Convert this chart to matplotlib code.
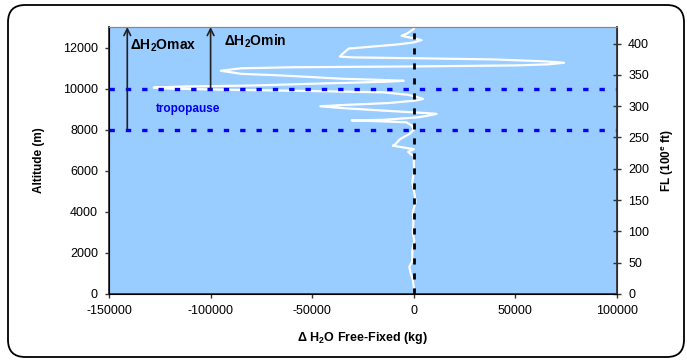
import numpy as np
import matplotlib.pyplot as plt
from matplotlib.patches import FancyBboxPatch

plt.rcParams['font.family'] = ['Liberation Sans', 'DejaVu Sans']
plt.rcParams['mathtext.fontset'] = 'custom'
plt.rcParams['mathtext.rm'] = 'Liberation Sans'
plt.rcParams['mathtext.bf'] = 'Liberation Sans:bold'
plt.rcParams['axes.unicode_minus'] = False

# altitude (m) and H2O difference free - fixed (kg)
altitude = [300, 700, 1000, 1320, 1600, 2150, 2600, 3000, 3500, 3960,
            4500, 5000, 5450, 6000, 6450, 6700, 6920, 7050, 7150, 7220,
            7300, 7540, 7800, 8000, 8200, 8360, 8420, 8450, 8480, 8600,
            8720, 8770, 8810, 8900, 9050, 9140, 9200, 9300, 9420, 9500,
            9580, 9700, 9820, 9880, 9950, 10000, 10050, 10100, 10150, 10250,
            10330, 10380, 10420, 10480, 10640, 10720, 10870, 10990, 11040, 11080,
            11130, 11180, 11260, 11330, 11420, 11480, 11520, 11560, 11700, 11950,
            12150, 12250, 12360, 12450, 12570, 12700, 12900, 13050]
delta_h2o = [0, -500, -1500, -2200, -800, -700, 200, -500, -200, -500,
             900, 100, -700, 100, 0, 0, -2800, 0, -6000, -10300,
             -9000, -6800, -2000, 0, -1000, -3600, -20000, -30600, -15000, 2000,
             9000, 11200, 6000, -10000, -35000, -46000, -35000, -12000, 1000, 4600,
             2000, -3000, -15000, -50000, -95000, -120000, -128000, -115000, -80000, -45000,
             -15000, -5000, -15000, -35000, -65000, -85000, -95000, -85000, -60000, 0,
             50000, 66000, 74000, 64000, 40000, 0, -30000, -36400, -35000, -32000,
             -8000, 0, 3800, 0, -6000, -3000, 0, 0]

tropopause = [8000, 10000]
arrow_x = [-141000, -100000]
arrow_base = [8000, 10000]
arrow_names = [r'$\mathbf{\Delta H_2Omax}$', r'$\mathbf{\Delta H_2Omin}$']

fig = plt.figure(figsize=(6.87, 3.62), dpi=100)
frame = FancyBboxPatch((8 / 687, 5 / 362), 676 / 687, 352 / 362,
                       boxstyle='round,pad=0,rounding_size=0.025',
                       transform=fig.transFigure, facecolor='white',
                       edgecolor='black', lw=1.3, mutation_aspect=687 / 362,
                       zorder=-10)
fig.patches.append(frame)

ax = fig.add_axes([109 / 687, 1 - 294 / 362, 508 / 687, 267 / 362])
ax.set_facecolor('#99CCFF')

ax.plot(delta_h2o, altitude, color='white', lw=1.6, zorder=3)
ax.plot([0, 0], [0, 13000], color='black', lw=2, dashes=(2.2, 3.2), zorder=4)
for h in tropopause:
    ax.axhline(h, color='#0000FF', lw=2.4, dashes=(1.6, 3.3), zorder=5)

for x, y0 in zip(arrow_x, arrow_base):
    ax.annotate('', xy=(x, 13000), xytext=(x, y0),
                arrowprops=dict(arrowstyle='->', color='#222222', lw=1.2,
                                mutation_scale=12, shrinkA=0, shrinkB=0),
                annotation_clip=False, zorder=6)

ax.text(-139700, 12100, arrow_names[0], fontsize=10, va='center', ha='left')
ax.text(-93500, 12300, arrow_names[1], fontsize=10, va='center', ha='left')
ax.text(-127000, 9000, 'tropopause', color='#0000EE', fontsize=8.5,
        fontweight='bold', va='center', ha='left')

ax.set_xlim(-150000, 100000)
ax.set_ylim(0, 13000)
ax.set_xticks(np.arange(-150000, 100001, 50000))
ax.set_yticks(np.arange(0, 12001, 2000))
ax.tick_params(labelsize=9, length=3, width=1, pad=5, color='#333333')
ax.set_xlabel(r'$\mathbf{\Delta}$ H$_\mathbf{2}$O Free-Fixed (kg)',
              fontsize=9, fontweight='bold', labelpad=9)
ax.set_ylabel('Altitude (m)', fontsize=8.5, fontweight='bold', labelpad=13)
for s in ['left', 'bottom']:
    ax.spines[s].set_color('#333333')
    ax.spines[s].set_linewidth(1.3)
ax.spines['top'].set_color('#888888')

ax2 = ax.twinx()
ax2.set_ylim(0, 13000 * 3.28084 / 100)
ax2.set_yticks(np.arange(0, 401, 50))
ax2.tick_params(labelsize=9, length=6, width=1, direction='inout', pad=5,
                color='#333333')
ax2.spines['right'].set_color('#333333')
ax2.spines['right'].set_linewidth(1.3)
ax2.spines['top'].set_color('#888888')
ax2.set_ylabel(r'FL (100$^\mathbf{e}$ ft)', fontsize=8.5, fontweight='bold',
               labelpad=7)

fig.savefig('out.png', dpi=100)
